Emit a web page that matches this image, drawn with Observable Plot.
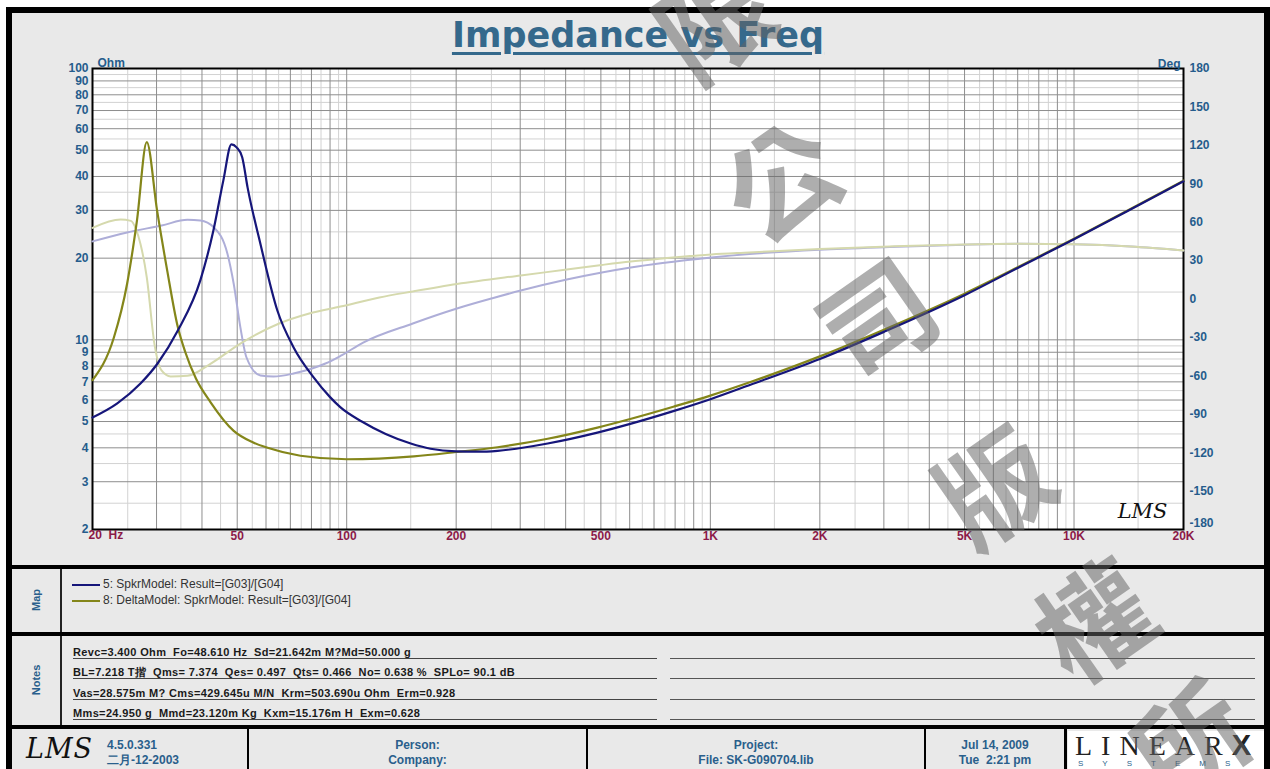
<!DOCTYPE html>
<html><head><meta charset="utf-8">
<script src="https://cdn.jsdelivr.net/npm/d3@7"></script>
<script src="https://cdn.jsdelivr.net/npm/@observablehq/plot@0.6"></script>
<style>
body{margin:0;background:#fff;}
#page{position:relative;width:1270px;height:769px;overflow:hidden;background:#fff;font-family:"Liberation Sans",Arial,sans-serif;}
.abs{position:absolute;}
.blk{position:absolute;background:#000;}
.lbl{position:absolute;color:#2a5f8c;font-weight:bold;font-size:12px;}
.note{position:absolute;left:73px;width:584px;font-size:11px;font-weight:bold;color:#1a1a1a;border-bottom:1px solid #444;white-space:pre;line-height:12px;letter-spacing:0.35px;}
.note2{position:absolute;left:670px;width:585px;border-bottom:1px solid #555;height:12px;}
.ft{position:absolute;text-align:center;color:#2a5f8c;font-weight:bold;font-size:12px;line-height:15px;}
.wm{position:absolute;font-family:"Noto Sans CJK TC",sans-serif;font-weight:bold;font-size:112px;color:rgba(100,100,100,0.52);transform:rotate(-35deg);transform-origin:center;line-height:1;pointer-events:none;}
</style></head><body>
<div id="page">
  <div class="abs" style="left:6px;top:7px;width:1264px;height:780px;background:#e9e9e9;border:6px solid #000;box-sizing:border-box;"></div>
  <div class="abs" id="title" style="left:0;width:1276px;top:15px;text-align:center;font-family:'DejaVu Sans',sans-serif;font-size:35px;font-weight:bold;color:#35698c;text-decoration:underline;text-decoration-thickness:3px;text-underline-offset:5px;line-height:40px;">Impedance vs Freq</div>
  <div id="chart" class="abs" style="left:0;top:0;width:1270px;height:560px;"></div>
  <div class="blk" style="left:12px;top:565px;width:1254px;height:4px;"></div>
  <div class="blk" style="left:12px;top:632px;width:1254px;height:4px;"></div>
  <div class="blk" style="left:12px;top:725px;width:1254px;height:4px;"></div>
  <div class="blk" style="left:60px;top:569px;width:2px;height:63px;background:#222;"></div>
  <div class="blk" style="left:60px;top:636px;width:2px;height:89px;background:#222;"></div>
  <div class="blk" style="left:247px;top:729px;width:2px;height:40px;"></div>
  <div class="blk" style="left:586px;top:729px;width:2px;height:40px;"></div>
  <div class="blk" style="left:924px;top:729px;width:2px;height:40px;"></div>
  <div class="blk" style="left:1064px;top:729px;width:3px;height:40px;"></div>
  <div class="lbl" style="left:36px;top:600px;transform:translate(-50%,-50%) rotate(-90deg);font-size:11px;">Map</div>
  <div class="lbl" style="left:36px;top:680px;transform:translate(-50%,-50%) rotate(-90deg);font-size:11px;">Notes</div>
  <div id="legend"></div>
  <div id="notes"></div>
  <div class="abs" style="left:26px;top:733px;font-family:'DejaVu Serif',serif;font-style:italic;font-size:27px;color:#111;letter-spacing:1px;">LMS</div>
  <div class="ft" style="left:107px;top:738px;text-align:left;">4.5.0.331<br>二月-12-2003</div>
  <div class="ft" style="left:249px;width:337px;top:738px;">Person:<br>Company:</div>
  <div class="ft" style="left:588px;width:336px;top:738px;">Project:<br>File: SK-G090704.lib</div>
  <div class="ft" style="left:926px;width:138px;top:738px;">Jul 14, 2009<br>Tue&nbsp;&nbsp;2:21 pm</div>
  <div class="abs" style="left:1068px;top:731px;width:196px;height:40px;background:#fff;"></div>
  <div class="abs" style="left:1075px;top:731px;font-family:'Liberation Serif',serif;font-size:28px;color:#222;letter-spacing:9px;line-height:28px;">LINEAR<span style="font-family:'Liberation Sans';font-weight:900;font-size:29px;letter-spacing:0;">X</span></div>
  <div class="abs" style="left:1078px;top:759px;font-size:8px;color:#2a5f8c;letter-spacing:19px;line-height:9px;">SYSTEMS</div>
  <div class="wm" style="left:655px;top:-40px;">限</div>
  <div class="wm" style="left:722px;top:120px;">公</div>
  <div class="wm" style="left:818px;top:258px;">司</div>
  <div class="wm" style="left:935px;top:425px;">版</div>
  <div class="wm" style="left:1035px;top:560px;">權</div>
  <div class="wm" style="left:1130px;top:680px;">所</div>
</div>
<script>
// ---------- data ----------
const blueFreq = [20, 23.4, 27.1, 30.2, 34.3, 39.6, 43, 45.8, 48.2, 49.8, 51.6, 53.4, 57.9, 64.5, 71.4, 81.1, 90, 96, 110, 128, 150, 170, 200, 230, 260, 357, 489, 602, 791, 1000, 1289, 2000, 3000, 5000, 7000, 10000, 14000, 20000];
const blueOhm  = [5.17, 5.83, 6.9, 8.18, 10.8, 16.6, 25.3, 38.7, 52.5, 51.2, 47.1, 36.4, 22.6, 12.8, 9.4, 7.27, 6.15, 5.65, 5.0, 4.5, 4.15, 3.97, 3.88, 3.87, 3.9, 4.15, 4.55, 4.9, 5.46, 6.04, 6.83, 8.5, 10.7, 14.6, 18.4, 23.5, 29.8, 38.4];

const oliveFreq = [20, 22.9, 24.9, 26.5, 28.2, 30.1, 32.1, 34.3, 36, 38.5, 42.2, 48.9, 55, 60.6, 74.6, 100, 153, 200, 260, 357, 489, 602, 791, 1000, 1289, 2000, 3000, 5000, 7000, 10000, 14000, 20000];
const oliveOhm  = [7.1, 10.2, 16.1, 27.5, 53.5, 30.0, 18.0, 11.2, 9.0, 7.2, 5.9, 4.62, 4.2, 4.0, 3.74, 3.63, 3.72, 3.86, 4.02, 4.32, 4.75, 5.11, 5.67, 6.23, 6.99, 8.69, 10.9, 14.8, 18.5, 23.6, 29.9, 38.6];

const bluePhaseFreq = [20, 24.9, 31, 36.5, 39.6, 43.1, 47, 48.9, 51, 53, 57.9, 62.9, 71.4, 80.3, 87.4, 96.1, 111, 152, 201, 253, 301, 403, 503, 604, 739, 1006, 1280, 1998, 3110, 4998, 7120, 9980, 14330, 20000];
const bluePhaseDeg  = [45, 52, 57.4, 61.8, 61.3, 56, 35.3, 11.9, -22, -45.5, -59.7, -60.5, -58.2, -54.3, -50.4, -44.5, -34, -19.1, -7.4, 0.8, 6.6, 15.2, 20.7, 24.6, 28.1, 32.4, 35.1, 38.5, 40.6, 42.4, 43.1, 42.7, 41, 37.9];

const olivePhaseFreq = [20, 23.9, 25.5, 26.3, 27.1, 28.2, 29.6, 31, 32.8, 36.5, 42.2, 51, 65.2, 78.9, 96.1, 123, 152, 201, 301, 403, 503, 604, 739, 1006, 1280, 1998, 3110, 4998, 7120, 9980, 14330, 20000];
const olivePhaseDeg  = [55.5, 62, 61, 55, 43, 17, -35, -56, -60.5, -60, -50.6, -34.8, -19.1, -11.3, -5.9, 1.2, 5.9, 11.7, 18.4, 23, 26.6, 29.3, 31.6, 34.8, 36.3, 39, 41, 42.6, 43.1, 42.7, 41, 37.9];

const xTickValues = [20, 50, 100, 200, 500, 1000, 2000, 5000, 10000, 20000];
const xTickLabels = ["20\u00a0\u00a0Hz", "50", "100", "200", "500", "1K", "2K", "5K", "10K", "20K"];
const yTickValues = [2, 3, 4, 5, 6, 7, 8, 9, 10, 20, 30, 40, 50, 60, 70, 80, 90, 100];
const degTickValues = [-180, -150, -120, -90, -60, -30, 0, 30, 60, 90, 120, 150, 180];

const legendNames = ["5: SpkrModel: Result=[G03]/[G04]", "8: DeltaModel: SpkrModel: Result=[G03]/[G04]"];
const noteLines = [
  "Revc=3.400 Ohm  Fo=48.610 Hz  Sd=21.642m M?Md=50.000 g",
  "BL=7.218 T揩  Qms= 7.374  Qes= 0.497  Qts= 0.466  No= 0.638 %  SPLo= 90.1 dB",
  "Vas=28.575m M? Cms=429.645u M/N  Krm=503.690u Ohm  Erm=0.928",
  "Mms=24.950 g  Mmd=23.120m Kg  Kxm=15.176m H  Exm=0.628"
];

// ---------- styling ----------
const navy = "#16167a", olive = "#84861a", lavender = "#aeaed8", beige = "#d5d9ad";
const axisBlue = "#255c8c", xRed = "#8c1a48";

// ---------- grid values (derived from decades) ----------
const majorX = [], minorX = [], majorY = [], minorY = [];
for (const dec of [10, 100, 1000, 10000]) for (let k = 1; k < 10; k += 0.5) {
  const f = dec * k; if (f <= 20 || f >= 20000) continue; (k % 1 === 0 ? majorX : minorX).push(f);
}
for (const dec of [1, 10]) for (let k = 1; k < 10; k += 0.5) {
  const v = dec * k; if (v <= 2 || v >= 100) continue; (k % 1 === 0 ? majorY : minorY).push(v);
}

const dims = {width: 1270, height: 560, marginLeft: 92, marginRight: 87, marginTop: 68, marginBottom: 31};
const xScale = {type: "log", domain: [20, 20000], axis: null};
const pts = (fs, vs) => fs.map((f, i) => ({f, v: vs[i]}));
const labelOf = new Map(xTickValues.map((v, i) => [v, xTickLabels[i]]));
const font = "Liberation Sans, Arial, sans-serif";

const grid = Plot.plot({
  ...dims,
  x: xScale,
  y: {type: "log", domain: [2, 100], axis: null},
  style: {background: "transparent", fontFamily: font, fontWeight: "bold", overflow: "visible"},
  marks: [
    Plot.frame({fill: "white", stroke: null}),
    Plot.ruleX(minorX, {stroke: "#d2d2d2"}),
    Plot.ruleY(minorY, {stroke: "#d2d2d2"}),
    Plot.ruleX(majorX, {stroke: "#8e8e8e"}),
    Plot.ruleY(majorY, {stroke: "#8e8e8e"}),
    Plot.frame({stroke: "#000", strokeWidth: 2}),
    Plot.text([xTickValues[0]], {x: d => d, text: d => labelOf.get(d), frameAnchor: "bottom", dy: 9, dx: -4, textAnchor: "start", fontSize: 12, fill: xRed}),
    Plot.text(xTickValues.slice(1), {x: d => d, text: d => labelOf.get(d), frameAnchor: "bottom", dy: 10, fontSize: 12, fill: xRed}),
    Plot.text(yTickValues, {y: d => d, text: d => String(d), frameAnchor: "left", dx: -4, textAnchor: "end", fontSize: 12, fill: axisBlue}),
    Plot.text(["Ohm"], {frameAnchor: "top-left", dx: 5, dy: -10, fontSize: 12, fill: axisBlue, textAnchor: "start"}),
    Plot.text(["Deg"], {frameAnchor: "top-right", dx: -3, dy: -9, fontSize: 12, fill: axisBlue, textAnchor: "end"}),
    Plot.text(["LMS"], {frameAnchor: "bottom-right", dx: -16, dy: -12, fontSize: 21, fontStyle: "italic", fontWeight: "normal", fontFamily: "DejaVu Serif, serif", fill: "#111", textAnchor: "end"})
  ]
});

const phase = Plot.plot({
  ...dims,
  x: xScale,
  y: {type: "linear", domain: [-180, 180], axis: null},
  style: {background: "transparent", fontFamily: font, fontWeight: "bold", overflow: "visible"},
  marks: [
    Plot.line(pts(bluePhaseFreq, bluePhaseDeg), {x: "f", y: "v", stroke: lavender, strokeWidth: 2, curve: "monotone-x"}),
    Plot.line(pts(olivePhaseFreq, olivePhaseDeg), {x: "f", y: "v", stroke: beige, strokeWidth: 2, curve: "monotone-x"}),
    Plot.text(degTickValues.slice(1), {y: d => d, text: d => String(d), frameAnchor: "right", dx: 6, textAnchor: "start", fontSize: 12, fill: axisBlue}),
    Plot.text(degTickValues.slice(0, 1), {y: d => d, text: d => String(d), frameAnchor: "right", dx: 6, dy: -6, textAnchor: "start", fontSize: 12, fill: axisBlue})
  ]
});

const imp = Plot.plot({
  ...dims,
  x: xScale,
  y: {type: "log", domain: [2, 100], axis: null},
  style: {background: "transparent", overflow: "visible"},
  marks: [
    Plot.line(pts(oliveFreq, oliveOhm), {x: "f", y: "v", stroke: olive, strokeWidth: 2.2, curve: "monotone-x"}),
    Plot.line(pts(blueFreq, blueOhm), {x: "f", y: "v", stroke: navy, strokeWidth: 2.2, curve: "monotone-x"})
  ]
});

const chart = document.getElementById("chart");
for (const svg of [grid, phase, imp]) {
  svg.style.position = "absolute"; svg.style.left = "0"; svg.style.top = "0";
  chart.appendChild(svg);
}

// legend
const legend = document.getElementById("legend");
[navy, olive].forEach((c, i) => {
  const y = 584 + i * 16;
  legend.insertAdjacentHTML("beforeend",
    `<div class="abs" style="left:72px;top:${y}px;width:28px;height:2px;background:${c};"></div>` +
    `<div class="abs" style="left:103px;top:${y - 7}px;font-size:12px;color:#333;">${legendNames[i]}</div>`);
});
// notes
const notes = document.getElementById("notes");
noteLines.forEach((t, i) => {
  const y = 646 + i * 20.3;
  notes.insertAdjacentHTML("beforeend",
    `<div class="note" style="top:${y}px;">${t}</div>` +
    `<div class="note2" style="top:${y + 0}px;"></div>`);
});
</script>
</body></html>
